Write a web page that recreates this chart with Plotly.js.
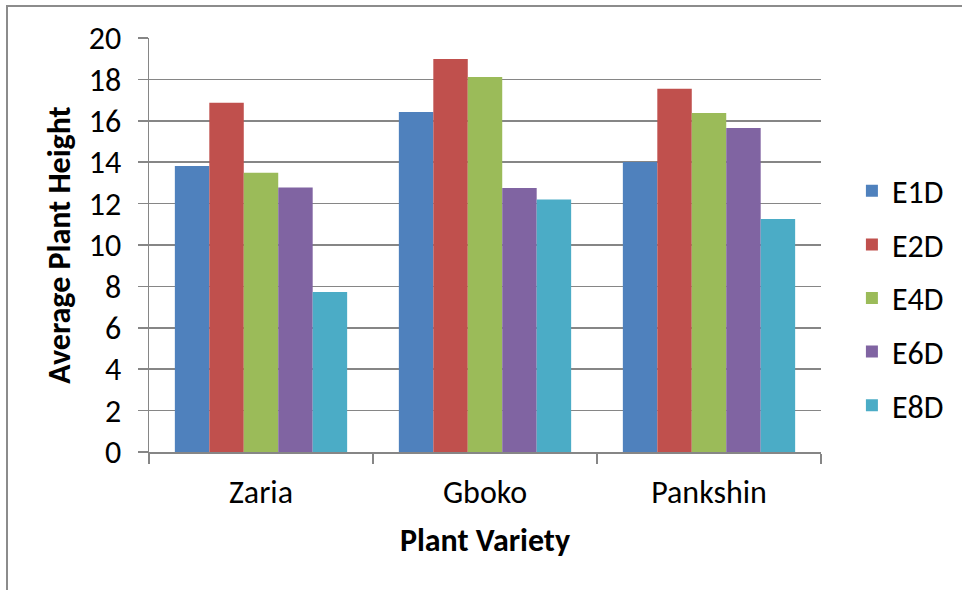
<!DOCTYPE html>
<html>
<head>
<meta charset="utf-8">
<script src="https://cdn.plot.ly/plotly-3.0.1.min.js"></script>
<style>
html,body{margin:0;padding:0;background:#fff;}
#chart{width:962px;height:590px;}
</style>
</head>
<body>
<div id="chart"></div>
<script>
const categories = ["Zaria", "Gboko", "Pankshin"];
const seriesNames = ["E1D", "E2D", "E4D", "E6D", "E8D"];
const E1D = [13.82, 16.43, 14.01];
const E2D = [16.87, 18.99, 17.55];
const E4D = [13.49, 18.12, 16.38];
const E6D = [12.78, 12.75, 15.65];
const E8D = [7.73, 12.20, 11.26];
const yTicks = [0, 2, 4, 6, 8, 10, 12, 14, 16, 18, 20];
const colors = ["#4F81BD", "#C0504D", "#9BBB59", "#8064A2", "#4BACC6"];

const seriesValues = [E1D, E2D, E4D, E6D, E8D];
const FONT = "Calibri, Carlito, Lato, sans-serif";
const FS = 32;

const traces = seriesNames.map((name, i) => ({
  type: "bar",
  name: name,
  x: categories,
  y: seriesValues[i],
  legendgroup: name,
  marker: { color: colors[i], line: { width: 0 } },
  hoverinfo: "x+y+name"
}));

const layout = {
  width: 962,
  height: 590,
  margin: { l: 149, r: 141, t: 38, b: 138, pad: 0 },
  paper_bgcolor: "#ffffff",
  plot_bgcolor: "#ffffff",
  font: { family: FONT, size: FS, color: "#000000" },
  barmode: "group",
  bargap: 0.2308,
  bargroupgap: 0,
  showlegend: true,
  legend: {
    x: 1.046, xanchor: "left",
    y: 0.372, yanchor: "middle",
    font: { family: FONT, size: FS, color: "#000000" },
    tracegroupgap: 9,
    itemwidth: 30,
    bgcolor: "rgba(0,0,0,0)"
  },
  xaxis: {
    type: "category",
    showline: true, linecolor: "#868686", linewidth: 1.5,
    ticks: "outside", ticklen: 10, tickcolor: "#868686", tickwidth: 1.5,
    tickson: "boundaries",
    ticklabelstandoff: 11,
    showgrid: false,
    tickfont: { family: FONT, size: FS },
    title: { text: "<b>Plant Variety</b>", font: { family: FONT, size: FS }, standoff: 17 }
  },
  yaxis: {
    range: [0, 20],
    tickvals: yTicks,
    ticktext: yTicks.map(String),
    showline: true, linecolor: "#868686", linewidth: 1.5,
    ticks: "outside", ticklen: 10, tickcolor: "#868686", tickwidth: 1.5,
    ticklabelstandoff: 10,
    showgrid: true, gridcolor: "#868686", gridwidth: 1.5,
    zeroline: false,
    tickfont: { family: FONT, size: FS },
    title: { text: "<b>Average Plant Height</b>", font: { family: FONT, size: FS }, standoff: 8 }
  },
  shapes: [
    { type: "rect", xref: "paper", yref: "paper",
      x0: -142 / 672, x1: 1000 / 672, y0: -200 / 414, y1: (452 - 6) / 414,
      line: { color: "#8c8c8c", width: 2 }, fillcolor: "rgba(0,0,0,0)", layer: "below" }
  ]
};

Plotly.newPlot("chart", traces, layout, { displayModeBar: false, staticPlot: true });
</script>
</body>
</html>
